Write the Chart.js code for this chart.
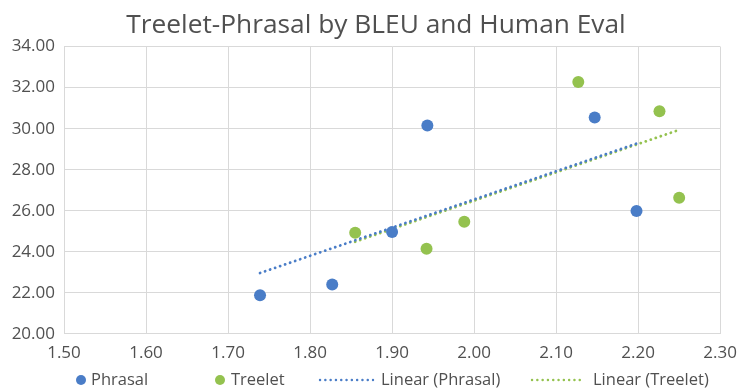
<!DOCTYPE html>
<html>
<head>
<meta charset="utf-8">
<script src="https://cdn.jsdelivr.net/npm/chart.js@4/dist/chart.umd.min.js"></script>
<style>
  html, body { margin: 0; padding: 0; background: #ffffff; }
  #wrap { width: 746px; height: 388px; position: relative; }
</style>
</head>
<body>
<div id="wrap"><canvas id="c" width="746" height="388"></canvas></div>
<script>
// BLEU score (x) vs. human evaluation (y)
const phrasalBleu  = [1.739, 1.827, 1.900, 1.943, 2.147, 2.198];
const phrasalHuman = [21.88, 22.40, 24.96, 30.15, 30.54, 25.99];
const treeletBleu  = [1.855, 1.942, 1.988, 2.127, 2.226, 2.250];
const treeletHuman = [24.93, 24.15, 25.46, 32.28, 30.85, 26.63];

const xTickValues = [1.5, 1.6, 1.7, 1.8, 1.9, 2.0, 2.1, 2.2, 2.3];
const yTickValues = [20, 22, 24, 26, 28, 30, 32, 34];
const seriesNames = ['Phrasal', 'Treelet', 'Linear (Phrasal)', 'Linear (Treelet)'];
const chartTitle = 'Treelet-Phrasal by BLEU and Human Eval';

const BLUE = '#4A7DC7';
const GREEN = '#94C24F';
const TEXT = '#505050';
const GRID = '#D9D9D9';
const FONT = "'Open Sans', 'Noto Sans', sans-serif";

function toPoints(xs, ys) {
  return xs.map((x, i) => ({ x: x, y: ys[i] }));
}

// least-squares trend line across the range of the series
function linearTrend(xs, ys) {
  const n = xs.length;
  const mx = xs.reduce((a, b) => a + b, 0) / n;
  const my = ys.reduce((a, b) => a + b, 0) / n;
  let sxy = 0, sxx = 0;
  for (let i = 0; i < n; i++) {
    sxy += (xs[i] - mx) * (ys[i] - my);
    sxx += (xs[i] - mx) * (xs[i] - mx);
  }
  const slope = sxy / sxx;
  const x0 = Math.min(...xs), x1 = Math.max(...xs);
  return [
    { x: x0, y: my + slope * (x0 - mx) },
    { x: x1, y: my + slope * (x1 - mx) }
  ];
}

const trendStyle = {
  type: 'scatter',
  showLine: true,
  pointRadius: 0,
  pointHoverRadius: 0,
  borderWidth: 2.8,
  borderDash: [0.1, 5.2],
  borderCapStyle: 'round',
  fill: false
};

// title centred over the whole chart
const titlePlugin = {
  id: 'centredTitle',
  afterDraw(chart) {
    const ctx = chart.ctx;
    ctx.save();
    ctx.font = "26.3px " + FONT;
    ctx.fillStyle = TEXT;
    ctx.textAlign = 'center';
    ctx.textBaseline = 'alphabetic';
    ctx.fillText(chartTitle, 376, 33);
    ctx.restore();
  }
};

// legend drawn under the x axis labels
const legendPlugin = {
  id: 'bottomLegend',
  afterDraw(chart) {
    const ctx = chart.ctx;
    const y = 380;
    const items = [
      { kind: 'dot', color: BLUE, mx: 81, tx: 91, text: seriesNames[0] },
      { kind: 'dot', color: GREEN, mx: 220, tx: 231, text: seriesNames[1] },
      { kind: 'line', color: BLUE, mx: 320, mx2: 373, tx: 381, text: seriesNames[2] },
      { kind: 'line', color: GREEN, mx: 532, mx2: 583, tx: 593, text: seriesNames[3] }
    ];
    ctx.save();
    ctx.font = "16.5px " + FONT;
    ctx.textBaseline = 'middle';
    ctx.textAlign = 'left';
    items.forEach(it => {
      if (it.kind === 'dot') {
        ctx.fillStyle = it.color;
        ctx.beginPath();
        ctx.arc(it.mx, y, 5, 0, Math.PI * 2);
        ctx.fill();
      } else {
        ctx.strokeStyle = it.color;
        ctx.lineWidth = 2.4;
        ctx.lineCap = 'round';
        ctx.setLineDash([0.1, 5.2]);
        ctx.beginPath();
        ctx.moveTo(it.mx, y);
        ctx.lineTo(it.mx2, y);
        ctx.stroke();
        ctx.setLineDash([]);
      }
      ctx.fillStyle = TEXT;
      ctx.fillText(it.text, it.tx, y);
    });
    ctx.restore();
  }
};

new Chart(document.getElementById('c'), {
  type: 'scatter',
  data: {
    datasets: [
      {
        label: seriesNames[0],
        data: toPoints(phrasalBleu, phrasalHuman),
        backgroundColor: BLUE,
        borderColor: BLUE,
        pointRadius: 6,
        pointBorderWidth: 0
      },
      {
        label: seriesNames[1],
        data: toPoints(treeletBleu, treeletHuman),
        backgroundColor: GREEN,
        borderColor: GREEN,
        pointRadius: 6,
        pointBorderWidth: 0
      },
      Object.assign({}, trendStyle, {
        label: seriesNames[2],
        data: linearTrend(phrasalBleu, phrasalHuman),
        borderColor: BLUE,
        backgroundColor: BLUE
      }),
      Object.assign({}, trendStyle, {
        label: seriesNames[3],
        data: linearTrend(treeletBleu, treeletHuman),
        borderColor: GREEN,
        backgroundColor: GREEN
      })
    ]
  },
  options: {
    responsive: false,
    animation: false,
    devicePixelRatio: 1,
    layout: { padding: { left: 0, right: 20, top: 46.6, bottom: 0 } },
    plugins: {
      legend: { display: false },
      tooltip: { enabled: false },
      title: { display: false }
    },
    scales: {
      x: {
        type: 'linear',
        min: 1.5,
        max: 2.3,
        afterBuildTicks(scale) { scale.ticks = xTickValues.map(v => ({ value: v })); },
        afterFit(scale) { scale.height = 54.2; },
        grid: { color: GRID, lineWidth: 1, drawTicks: false },
        border: { display: true, color: GRID },
        ticks: {
          color: TEXT,
          padding: 9,
          maxRotation: 0,
          autoSkip: false,
          font: { family: FONT, size: 17 },
          callback: v => Number(v).toFixed(2)
        }
      },
      y: {
        type: 'linear',
        min: 20,
        max: 34,
        afterBuildTicks(scale) { scale.ticks = yTickValues.map(v => ({ value: v })); },
        afterFit(scale) { scale.width = 64; },
        grid: { color: GRID, lineWidth: 1, drawTicks: false },
        border: { display: true, color: GRID },
        ticks: {
          color: TEXT,
          padding: 9,
          autoSkip: false,
          font: { family: FONT, size: 17 },
          callback: v => Number(v).toFixed(2)
        }
      }
    }
  },
  plugins: [titlePlugin, legendPlugin]
});
</script>
</body>
</html>
